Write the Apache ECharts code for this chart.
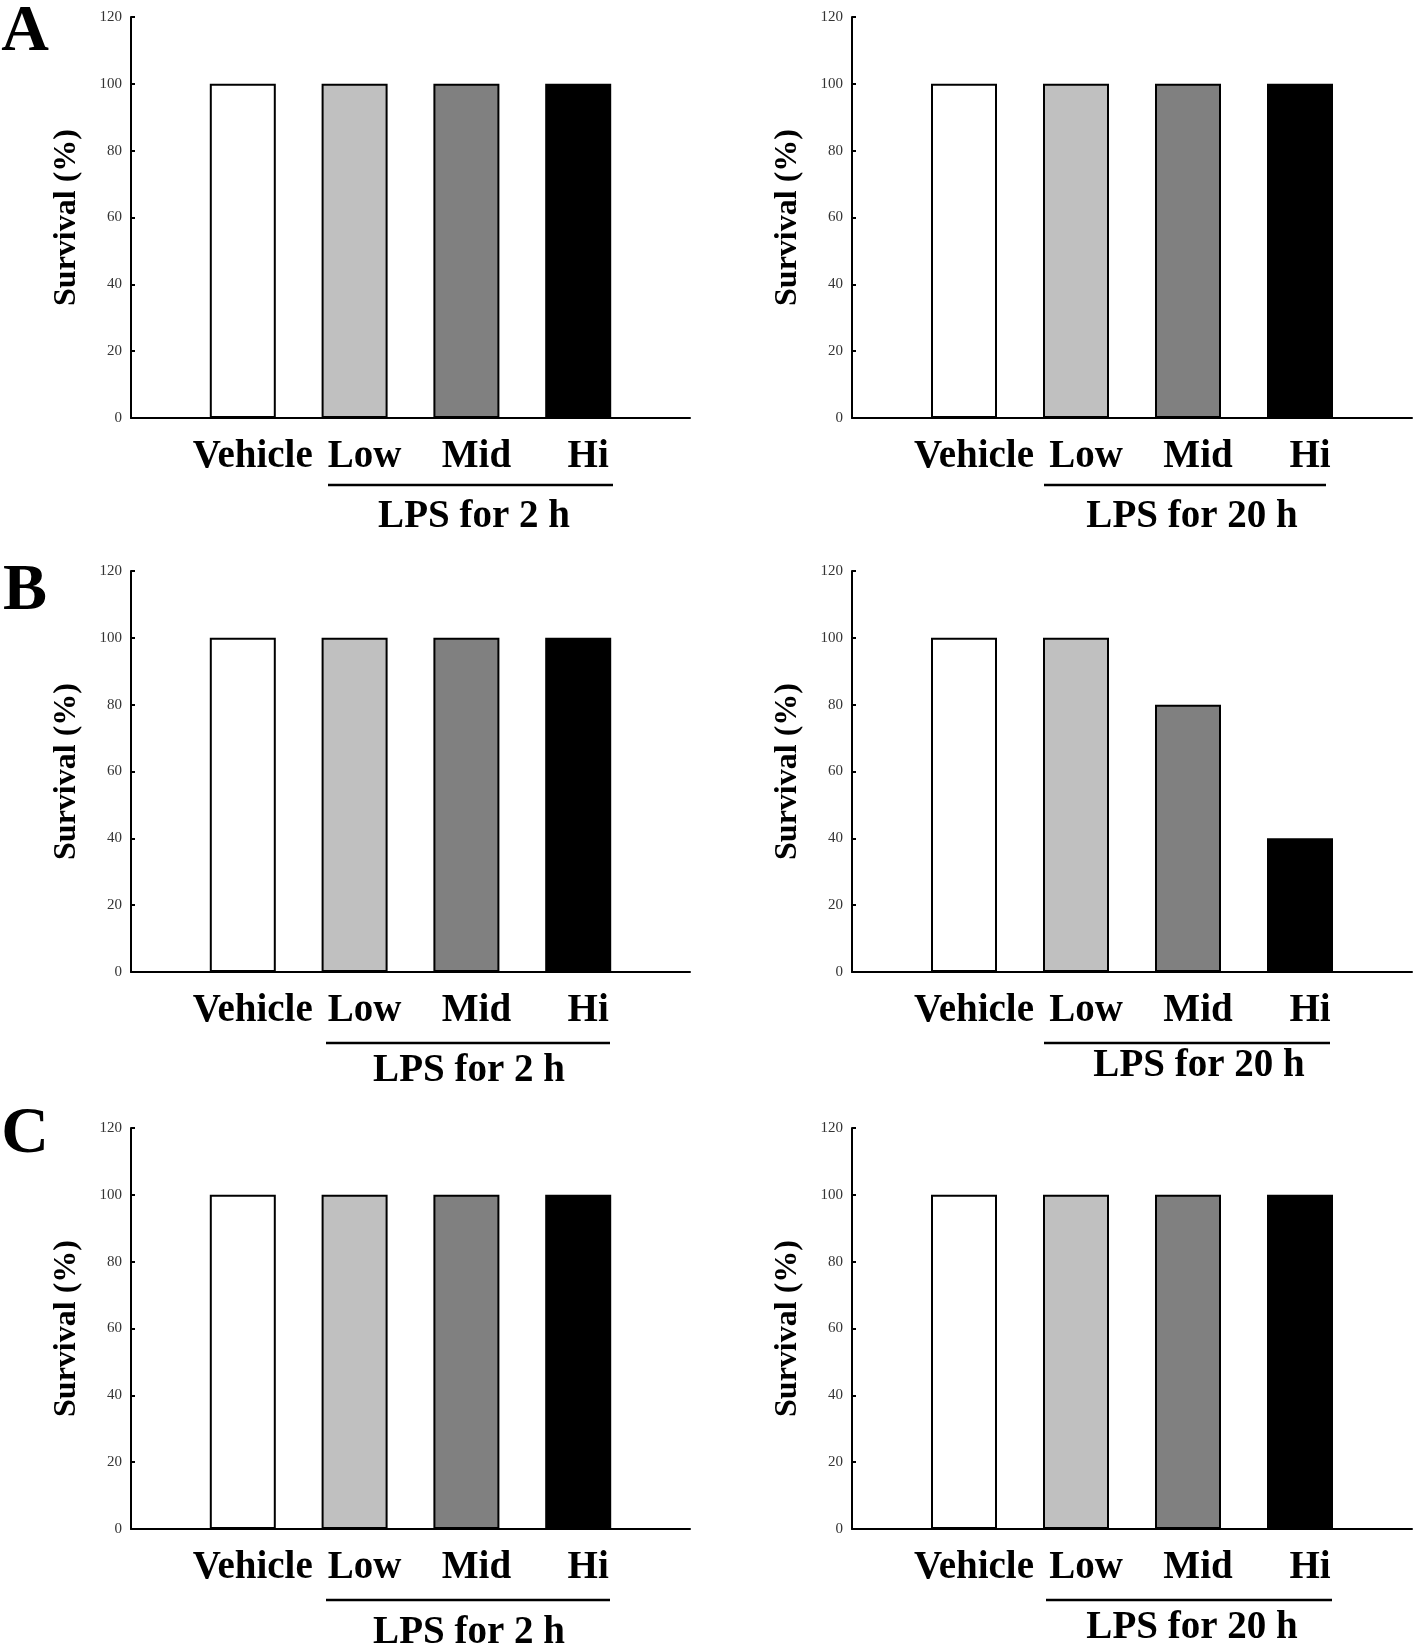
<!DOCTYPE html>
<html>
<head>
<meta charset="utf-8">
<style>
  html, body { margin: 0; padding: 0; background: #ffffff; }
  #chart { width: 1418px; height: 1648px; }
</style>
<script src="https://cdn.jsdelivr.net/npm/echarts@6/dist/echarts.min.js"></script>
</head>
<body>
<div id="chart"></div>
<script>
// ---- data ----
const categories = ['', 'Vehicle', 'Low', 'Mid', 'Hi', ''];
const survivalA2h  = [100, 100, 100, 100];
const survivalA20h = [100, 100, 100, 100];
const survivalB2h  = [100, 100, 100, 100];
const survivalB20h = [100, 100, 80, 40];
const survivalC2h  = [100, 100, 100, 100];
const survivalC20h = [100, 100, 100, 100];
const yMin = 0, yMax = 120, yStep = 20;
const yAxisTitle = 'Survival (%)';
const panelLetters = ['A', 'B', 'C'];
const groupLabels = ['LPS for 2 h', 'LPS for 20 h'];

// ---- styles / layout ----
const fillColors = ['#ffffff', '#c0c0c0', '#808080', '#000000'];
const SERIF = '"Liberation Serif", "Times New Roman", serif';

const panels = [
  { values: survivalA2h,  grid: { left: 131, top: 17,   width: 559, height: 401 }, group: 0, line: [328, 613, 485],    text: [474, 517] },
  { values: survivalA20h, grid: { left: 852, top: 17,   width: 560, height: 401 }, group: 1, line: [1044, 1326, 485],  text: [1192, 517] },
  { values: survivalB2h,  grid: { left: 131, top: 571,  width: 559, height: 401 }, group: 0, line: [326, 610, 1043],   text: [469, 1071] },
  { values: survivalB20h, grid: { left: 852, top: 571,  width: 560, height: 401 }, group: 1, line: [1044, 1330, 1043], text: [1199, 1066] },
  { values: survivalC2h,  grid: { left: 131, top: 1128, width: 559, height: 401 }, group: 0, line: [326, 610, 1600],   text: [469, 1633] },
  { values: survivalC20h, grid: { left: 852, top: 1128, width: 560, height: 401 }, group: 1, line: [1046, 1332, 1600], text: [1192, 1628] }
];
const letterPos = [[25, 33], [25, 592], [25, 1135]];

const grids = [], xAxes = [], yAxes = [], series = [], graphics = [];

panels.forEach((p, i) => {
  grids.push(Object.assign({ containLabel: false }, p.grid));
  xAxes.push({
    type: 'category',
    gridIndex: i,
    data: categories,
    boundaryGap: false,
    axisLine: { lineStyle: { color: '#000', width: 2 } },
    axisTick: { show: false },
    splitLine: { show: false },
    axisLabel: {
      interval: 0,
      color: '#000',
      fontFamily: SERIF,
      fontWeight: 'bold',
      fontSize: 39,
      margin: 19,
      padding: [0, 0, 0, 20]
    }
  });
  yAxes.push({
    type: 'value',
    gridIndex: i,
    min: yMin,
    max: yMax,
    interval: yStep,
    name: yAxisTitle,
    nameLocation: 'middle',
    nameRotate: 90,
    nameGap: 48,
    nameTextStyle: { color: '#000', fontFamily: SERIF, fontWeight: 'bold', fontSize: 32 },
    axisLine: { show: true, lineStyle: { color: '#000', width: 2 } },
    axisTick: { show: true, inside: true, length: 4, lineStyle: { color: '#000', width: 2 } },
    splitLine: { show: false },
    axisLabel: { color: '#333', fontFamily: SERIF, fontSize: 15, margin: 9 }
  });
  const data = categories.map((c, k) => {
    if (k === 0 || k === categories.length - 1) return '-';
    return {
      value: p.values[k - 1],
      itemStyle: { color: fillColors[k - 1], borderColor: '#000', borderWidth: 2 }
    };
  });
  series.push({
    type: 'bar',
    xAxisIndex: i,
    yAxisIndex: i,
    barWidth: 66,
    data: data,
    silent: true,
    animation: false
  });
  graphics.push({
    type: 'line',
    shape: { x1: p.line[0], y1: p.line[2], x2: p.line[1], y2: p.line[2] },
    style: { stroke: '#000', lineWidth: 2.5 }
  });
  graphics.push({
    type: 'text',
    x: p.text[0],
    y: p.text[1],
    style: {
      text: groupLabels[p.group],
      fill: '#000',
      font: 'bold 39px ' + SERIF,
      textAlign: 'center',
      textVerticalAlign: 'middle'
    }
  });
});

panelLetters.forEach((L, i) => {
  graphics.push({
    type: 'text',
    x: letterPos[i][0],
    y: letterPos[i][1],
    style: {
      text: L,
      fill: '#000',
      font: 'bold 66px ' + SERIF,
      textAlign: 'center',
      textVerticalAlign: 'middle'
    }
  });
});

const chart = echarts.init(document.getElementById('chart'), null, { renderer: 'canvas' });
chart.setOption({
  backgroundColor: '#ffffff',
  animation: false,
  grid: grids,
  xAxis: xAxes,
  yAxis: yAxes,
  series: series,
  graphic: graphics
});
</script>
</body>
</html>
